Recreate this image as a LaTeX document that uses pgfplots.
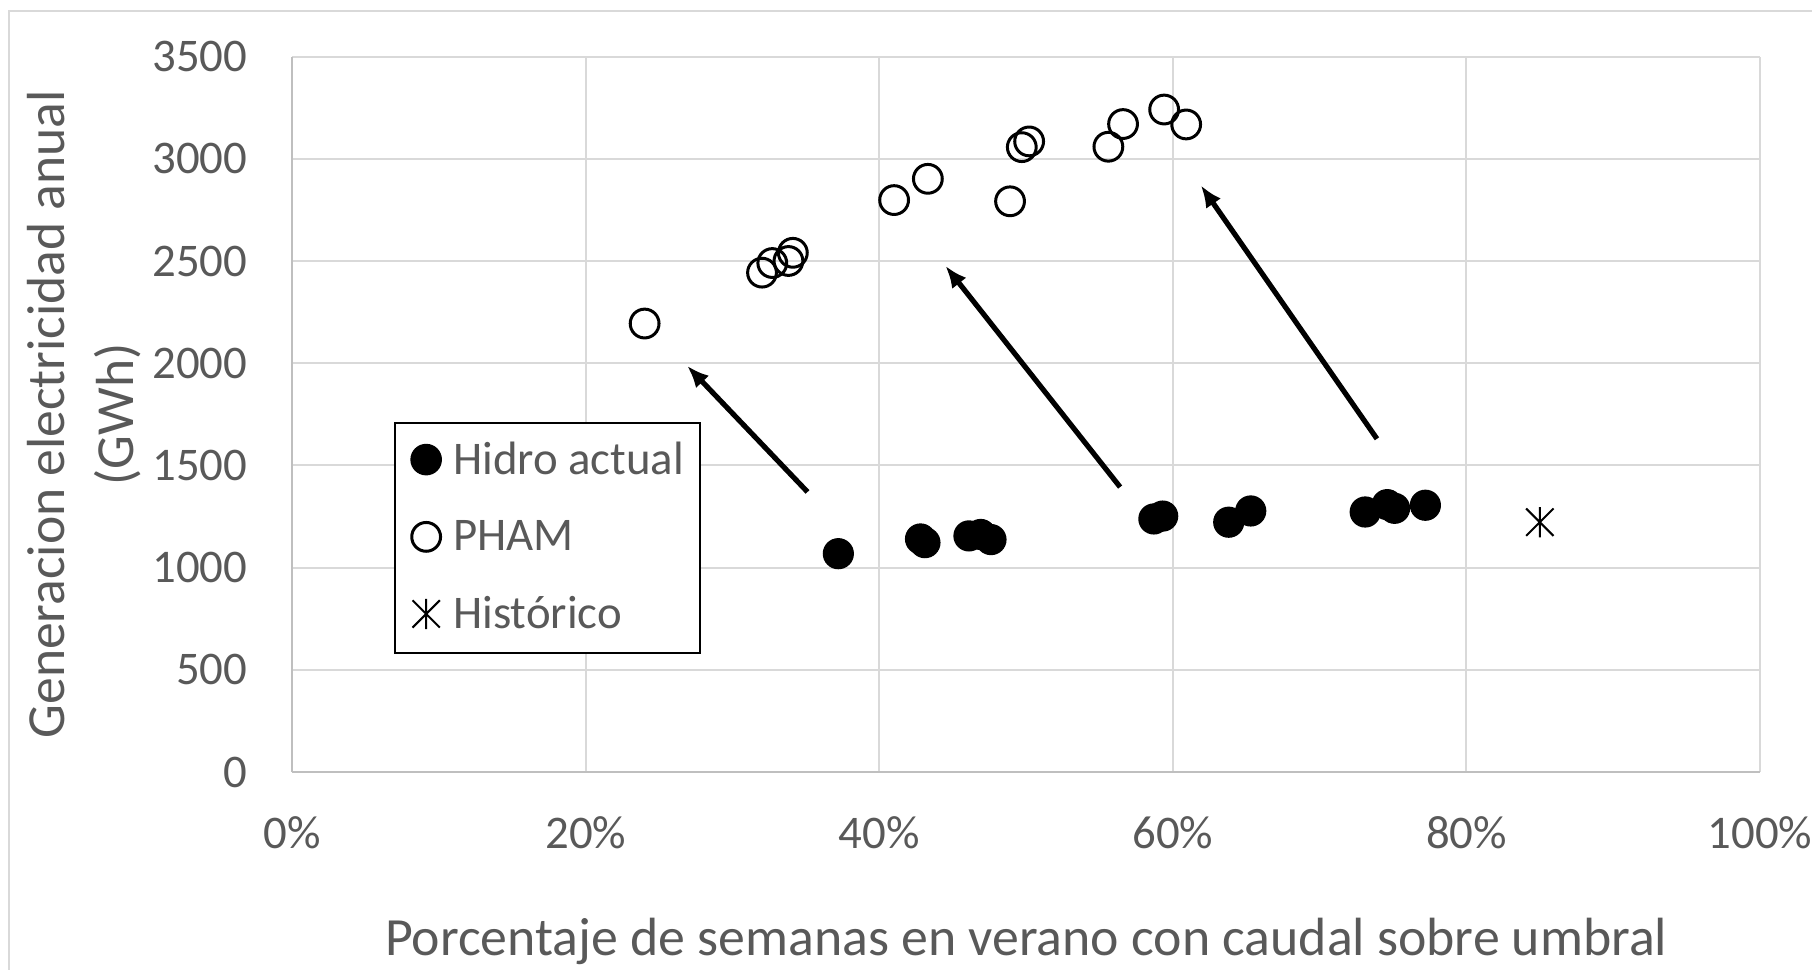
\documentclass[border=0pt]{standalone}
\usepackage{pgfplots}
\pgfplotsset{compat=1.18}
\usepackage{fontspec}
\setmainfont{Carlito}
\usetikzlibrary{arrows.meta}
\definecolor{txt}{HTML}{595959}
\definecolor{grd}{HTML}{D9D9D9}
\definecolor{axl}{HTML}{BFBFBF}
\pgfdeclareplotmark{xstar}{%
  \pgfpathmoveto{\pgfqpoint{-0.9\pgfplotmarksize}{-0.9\pgfplotmarksize}}%
  \pgfpathlineto{\pgfqpoint{0.9\pgfplotmarksize}{0.9\pgfplotmarksize}}%
  \pgfpathmoveto{\pgfqpoint{-0.9\pgfplotmarksize}{0.9\pgfplotmarksize}}%
  \pgfpathlineto{\pgfqpoint{0.9\pgfplotmarksize}{-0.9\pgfplotmarksize}}%
  \pgfpathmoveto{\pgfqpoint{0pt}{-\pgfplotmarksize}}%
  \pgfpathlineto{\pgfqpoint{0pt}{\pgfplotmarksize}}%
  \pgfusepathqstroke}
\begin{document}
\begin{tikzpicture}
\path[use as bounding box] (0,0) rectangle (453pt,242.5pt);
\draw[grd, line width=0.5pt] (2.25pt,0) -- (2.25pt,239.75pt) -- (453pt,239.75pt);
\begin{axis}[
  at={(73.1pt,49.5pt)}, anchor=south west,
  scale only axis, width=366.9pt, height=178.85pt,
  xmin=0, xmax=100, ymin=0, ymax=3500,
  xtick={0,20,40,60,80,100},
  xticklabels={0\%,20\%,40\%,60\%,80\%,100\%},
  ytick={0,500,1000,1500,2000,2500,3000,3500},
  yticklabels={0,500,1000,1500,2000,2500,3000,3500},
  grid=major, major grid style={grd, line width=0.5pt},
  axis x line*=bottom, axis y line*=left,
  axis line style={axl, line width=0.5pt, -},
  major tick length=0pt,
  tick label style={font=\fontsize{11.7}{14}\selectfont, text=txt},
  xticklabel style={anchor=base, yshift=-19.2pt, inner sep=0pt},
  yticklabel style={anchor=east, xshift=-11.1pt, inner sep=0pt},
  xlabel={Porcentaje de semanas en verano con caudal sobre umbral},
  xlabel style={at={(axis description cs:0.5,-0.2373)}, anchor=center,
    font=\fontsize{13.45}{16}\selectfont, text=txt},
  ylabel={Generacion electricidad anual\\(GWh)},
  ylabel style={at={(axis description cs:-0.142,0.5)}, anchor=center,
    align=center, font=\fontsize{13.4}{17.1}\selectfont, text=txt},
  legend style={at={(axis description cs:0.0692,0.489)}, anchor=north west,
    draw=black, line width=0.5pt, fill=white,
    font=\fontsize{11.7}{14}\selectfont, text=txt,
    inner xsep=2.9pt, inner ysep=2.6pt, row sep=6.0pt,
    nodes={inner xsep=1pt},
    /tikz/every odd column/.append style={column sep=2.05pt}},
  legend cell align=left,
  legend image code/.code={%
    \path[draw=none, fill=none] (-4.9pt,0.3pt) rectangle (0pt,0.3pt);
    \draw[#1] plot coordinates {(0pt,0.3pt)};},
]
\addplot[only marks, mark=*, mark size=3.7pt, draw=black, fill=black] coordinates {
(37.2,1068) (42.8,1140) (43.1,1122) (46.1,1155) (46.9,1162) (47.6,1137)
(58.7,1238) (59.3,1252) (63.8,1222) (65.3,1277) (73.1,1272) (74.6,1308)
(75.1,1290) (77.2,1305)
};
\addlegendentry{Hidro actual}
\addplot[only marks, mark=o, mark size=3.6pt, draw=black, line width=0.75pt] coordinates {
(24.0,2194) (32.0,2443) (32.7,2490) (33.8,2500) (34.1,2540) (41.0,2798)
(43.3,2902) (48.9,2792) (49.7,3057) (50.2,3085) (55.6,3059) (56.6,3170)
(59.4,3241) (60.9,3168)
};
\addlegendentry{PHAM}
\addplot[only marks, mark=xstar, mark size=3.8pt, draw=black, line width=0.5pt] coordinates {
(85.0,1222)
};
\addlegendentry{Histórico}
\draw[black, line width=1.3pt, -{Latex[length=5.5pt,width=4.5pt]}] (axis cs:35.1,1370) -- (axis cs:26.9,1987);
\draw[black, line width=1.3pt, -{Latex[length=5.5pt,width=4.5pt]}] (axis cs:56.4,1394) -- (axis cs:44.5,2476);
\draw[black, line width=1.3pt, -{Latex[length=5.5pt,width=4.5pt]}] (axis cs:73.9,1630) -- (axis cs:61.9,2870);
\end{axis}
\end{tikzpicture}
\end{document}
